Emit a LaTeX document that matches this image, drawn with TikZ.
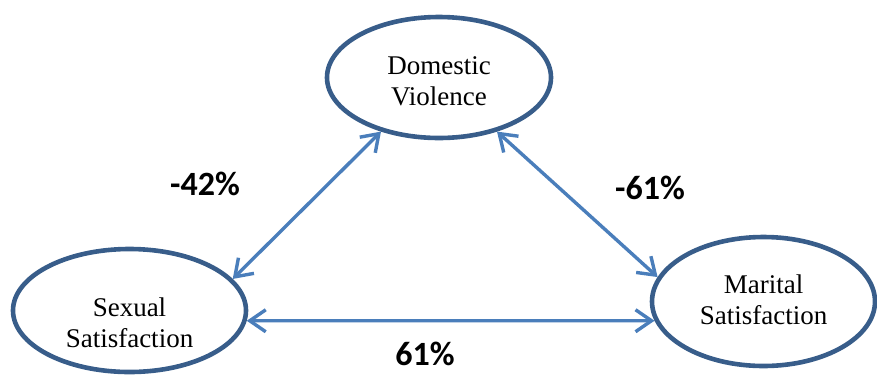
\documentclass[tikz,border=0pt]{standalone}
\usepackage{fontspec}
\setmainfont{Liberation Serif}
\newfontfamily\pctfont{Carlito}
\usetikzlibrary{shapes.geometric}
\usetikzlibrary{arrows.meta}
\definecolor{ovalblue}{RGB}{56,93,138}
\definecolor{arrowblue}{RGB}{74,126,187}

\begin{document}
\begin{tikzpicture}[x=0.5pt,y=-0.5pt,
        oval/.style={ellipse, draw=ovalblue, line width=2.3pt, inner sep=0pt},
        ovaltext/.style={align=center, font=\fontsize{13.5}{15.5}\selectfont},
        link/.style={draw=arrowblue, line width=1.7pt,
            {Straight Barb[length=8pt,width=11pt]}-{Straight Barb[length=8pt,width=11pt]}},
        pct/.style={font=\pctfont\bfseries\fontsize{17}{20}\selectfont}]
        \useasboundingbox (0,0) rectangle (877,376);
        % the three variables
        \node[oval, minimum width=112pt, minimum height=60.5pt,
            label={[ovaltext, name=domtext, yshift=-2pt]center:Domestic\\Violence}] (domviol) at (439,77.5) {};
        \node[oval, minimum width=116.5pt, minimum height=61.5pt,
            label={[ovaltext, name=sextext, yshift=-6pt]center:Sexual\\Satisfaction}] (sexsat) at (129.5,310.5) {};
        \node[oval, minimum width=111.5pt, minimum height=64.5pt,
            label={[ovaltext, name=martext, yshift=1pt]center:Marital\\Satisfaction}] (marsat) at (763.5,301.5) {};
        % correlations
        \draw[link] (sexsat.17) -- (domviol.223);
        \draw[link] (domviol.317) -- (marsat.167);
        \draw[link] (sexsat.355) -- (marsat.190);
        \node[pct] (sdlabel) at (205,184) {-42\%};
        \node[pct] (dmlabel) at (650,188) {-61\%};
        \node[pct] (smlabel) at (425,354) {61\%};
    \end{tikzpicture}
\end{document}
